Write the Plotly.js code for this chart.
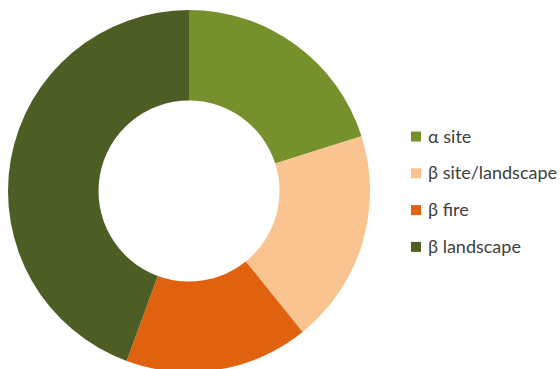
<!DOCTYPE html>
<html>
<head>
<meta charset="utf-8">
<script src="https://cdn.plot.ly/plotly-3.0.1.min.js"></script>
<style>html,body{margin:0;padding:0;overflow:hidden;background:#fff;}#chart{width:560px;height:372px;}</style>
</head>
<body>
<div id="chart"></div>
<script>
const labels = ["α site", "β site/landscape", "β fire", "β landscape"];
const values = [20.1, 19.1, 16.4, 44.4];
const colors = ["#76902B", "#F9C490", "#E0620F", "#4C5E24"];

const W = 560, H = 372;
const legendX = 411, legendTextX = 427, legendY0 = 136.5, legendStep = 36.8, sq = 10;

const shapes = [], annotations = [];
labels.forEach((lab, i) => {
  const cy = legendY0 + i * legendStep;
  shapes.push({type: "rect", xref: "paper", yref: "paper",
    x0: legendX / W, x1: (legendX + sq) / W,
    y0: 1 - (cy + sq / 2) / H, y1: 1 - (cy - sq / 2) / H,
    fillcolor: colors[i], line: {width: 0}});
  annotations.push({text: lab, xref: "paper", yref: "paper",
    x: (legendTextX - 1) / W, y: 1 - (cy - 1) / H, xanchor: "left", yanchor: "middle",
    showarrow: false, font: {family: "Lato, sans-serif", size: 18, color: "#404040"}});
});

const data = [{
  type: "pie", labels: labels, values: values, hole: 0.5, sort: false,
  direction: "clockwise", rotation: 0, textinfo: "none", hoverinfo: "none",
  marker: {colors: colors, line: {width: 0}},
  domain: {x: [8 / W, 370 / W], y: [0, 1 - 10 / H]},
  showlegend: false
}];
const layout = {
  width: W, height: H, margin: {l: 0, r: 0, t: 0, b: 0},
  paper_bgcolor: "#fff", showlegend: false, shapes: shapes, annotations: annotations
};
Plotly.newPlot("chart", data, layout, {displayModeBar: false, staticPlot: true});
</script>
</body>
</html>
